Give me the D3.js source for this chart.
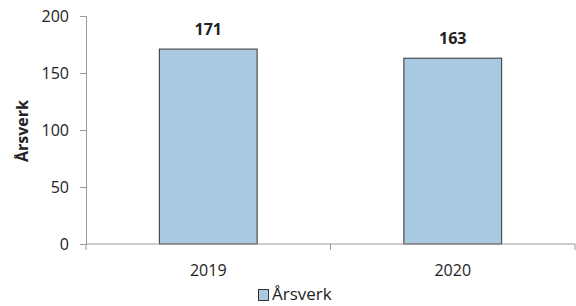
<!DOCTYPE html>
<html><head><meta charset="utf-8">
<script src="https://cdn.jsdelivr.net/npm/d3@7"></script>
<style>body{margin:0;background:#fff}svg{display:block}text{font-family:"Open Sans","Noto Sans",sans-serif;fill:#222}</style>
</head><body><svg id="c" width="576" height="306"></svg>
<script>
const categories = ["2019", "2020"];
const values = [171, 163];
const yTicks = [0, 50, 100, 150, 200];
const seriesName = "Årsverk";

const svg = d3.select("#c");
const m = {l: 86, r: 575, t: 16, b: 244};
const band = d3.scaleBand().domain(categories).range([m.l, m.r]);
const y = d3.scaleLinear().domain([0, 200]).range([m.b, m.t]);

// y axis
const ya = svg.append("g").attr("transform", `translate(${m.l},0)`)
  .call(d3.axisLeft(y).tickValues(yTicks).tickSize(6).tickPadding(11));
ya.select(".domain").attr("stroke", "#999");
ya.selectAll(".tick line").attr("stroke", "#999");
ya.selectAll(".tick text").attr("font-size", 16).attr("fill", "#222");

// bars
svg.append("g").selectAll("rect").data(values).join("rect")
  .attr("x", (d, i) => band(categories[i]) + band.bandwidth() * 0.3)
  .attr("width", band.bandwidth() * 0.4)
  .attr("y", d => y(d))
  .attr("height", d => y(0) - y(d))
  .attr("fill", "#a9c9e0").attr("stroke", "#333").attr("stroke-width", 1);

// x axis
const xa = svg.append("g").attr("transform", `translate(0,${m.b})`);
xa.append("line").attr("x1", m.l).attr("x2", m.r).attr("stroke", "#999");
const boundaries = [m.l].concat(categories.map(c => band(c) + band.bandwidth()));
xa.selectAll(".bt").data(boundaries).join("line")
  .attr("x1", d => d).attr("x2", d => d).attr("y1", 0).attr("y2", 6).attr("stroke", "#999");
xa.selectAll(".xl").data(categories).join("text")
  .attr("x", d => band(d) + band.bandwidth() / 2).attr("y", 32)
  .attr("text-anchor", "middle").attr("font-size", 16).text(d => d);

// value labels
svg.append("g").selectAll("text").data(values).join("text")
  .attr("x", (d, i) => band(categories[i]) + band.bandwidth() / 2)
  .attr("y", d => y(d) - 14)
  .attr("text-anchor", "middle").attr("font-size", 16).attr("font-weight", "bold").text(d => d);

// y title
svg.append("text").attr("transform", "translate(28,131) rotate(-90)")
  .attr("text-anchor", "middle").attr("font-size", 16).attr("font-weight", "bold").text(seriesName);

// legend
svg.append("rect").attr("x", 258.5).attr("y", 289.5).attr("width", 10).attr("height", 11)
  .attr("fill", "#a9c9e0").attr("stroke", "#333");
svg.append("text").attr("x", 272).attr("y", 300).attr("font-size", 17).text(seriesName);
</script></body></html>
